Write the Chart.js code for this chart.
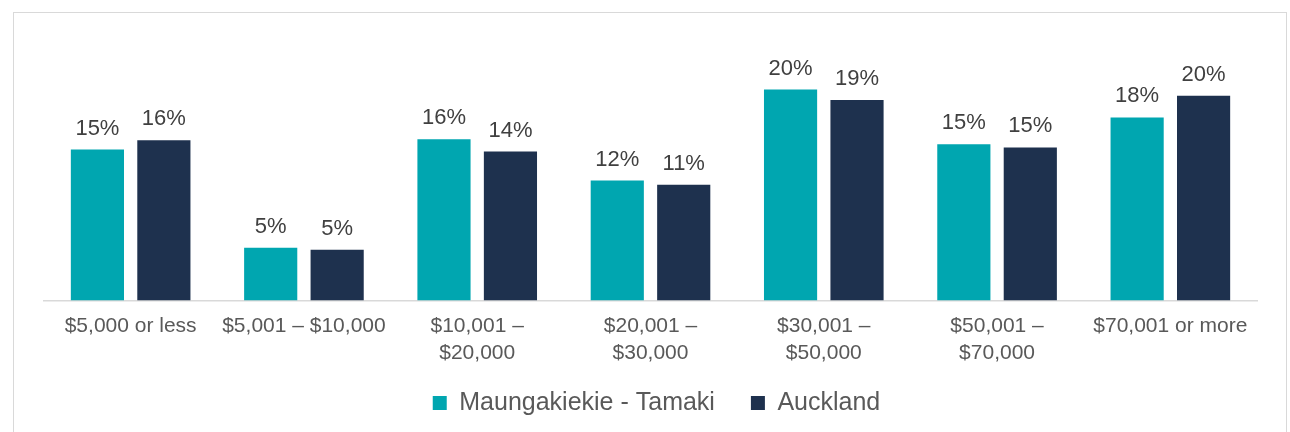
<!DOCTYPE html>
<html>
<head>
<meta charset="utf-8">
<script src="https://cdn.jsdelivr.net/npm/chart.js@4"></script>
<style>
    html, body { margin: 0; padding: 0; background: #fff; overflow: hidden; }
    #frame { position: absolute; left: 13px; top: 12px; width: 1272px; height: 440px; border: 1.5px solid #d9d9d9; }
    #wrap { position: absolute; left: 0; top: 0; width: 1290px; height: 432px; }
</style>
</head>
<body>
<div id="frame"></div>
<div id="wrap"><canvas id="incomeChart" width="1290" height="432"></canvas></div>
<script>
// ---- data ----
const categories = [
    '$5,000 or less',
    '$5,001 – $10,000',
    ['$10,001 –', '$20,000'],
    ['$20,001 –', '$30,000'],
    ['$30,001 –', '$50,000'],
    ['$50,001 –', '$70,000'],
    '$70,001 or more'
];
const seriesNames = ['Maungakiekie - Tamaki', 'Auckland'];
const maungakiekieValues = [14.6, 5.1, 15.6, 11.6, 20.4, 15.1, 17.7];
const aucklandValues = [15.5, 4.9, 14.4, 11.2, 19.4, 14.8, 19.8];

const TEAL = '#00a6b0';
const NAVY = '#1e314e';
const FONT = "'Liberation Sans', Arial, sans-serif";

// value labels above each bar
const barLabels = {
    id: 'barLabels',
    afterDatasetsDraw(chart) {
        const ctx = chart.ctx;
        ctx.save();
        ctx.font = `22px ${FONT}`;
        ctx.fillStyle = '#404040';
        ctx.textAlign = 'center';
        ctx.textBaseline = 'alphabetic';
        chart.data.datasets.forEach((ds, i) => {
            chart.getDatasetMeta(i).data.forEach((bar, j) => {
                ctx.fillText(Math.round(ds.data[j]) + '%', bar.x, bar.y - 15);
            });
        });
        ctx.restore();
    }
};

// pull the legend up a little closer to the axis labels
const legendNudge = {
    id: 'legendNudge',
    afterLayout(chart) {
        const lg = chart.legend; if (!lg) return;
        lg.top -= 10; lg.bottom -= 10;
        lg.left += 6; lg.right += 6;
    }
};

new Chart(document.getElementById('incomeChart').getContext('2d'), {
    type: 'bar',
    data: {
        labels: categories,
        datasets: [
            { label: seriesNames[0], data: maungakiekieValues, backgroundColor: TEAL, borderWidth: 0 },
            { label: seriesNames[1], data: aucklandValues, backgroundColor: NAVY, borderWidth: 0 }
        ]
    },
    options: {
        responsive: false,
        animation: false,
        events: [],
        categoryPercentage: 0.767,
        barPercentage: 0.8,
        layout: { padding: { left: 44, right: 33, top: 42, bottom: -3.5 } },
        scales: {
            x: {
                grid: { display: false, drawTicks: false },
                border: { display: true, color: '#d9d9d9', width: 1.5 },
                ticks: { color: '#595959', padding: 13, maxRotation: 0, autoSkip: false, font: { family: FONT, size: 21, lineHeight: 1.25 } },
                afterFit(scale) { scale.height = 64; }
            },
            y: { display: false, min: 0, max: 25 }
        },
        plugins: {
            legend: {
                position: 'bottom',
                labels: {
                    color: '#595959',
                    boxWidth: 14,
                    boxHeight: 14,
                    padding: 36,
                    font: { family: FONT, size: 25 }
                }
            },
            tooltip: { enabled: false }
        }
    },
    plugins: [barLabels, legendNudge]
});
</script>
</body>
</html>
